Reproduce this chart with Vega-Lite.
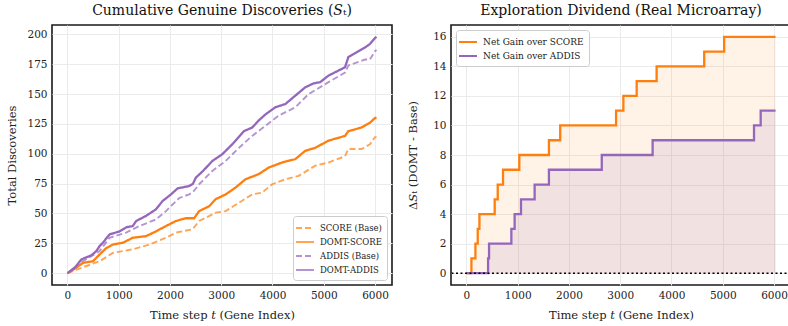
{
  "$schema": "https://vega.github.io/schema/vega-lite/v6.json",
  "background": "white",
  "padding": {"left": 6, "top": 3, "right": 0, "bottom": 0},
  "config": {
    "font": "DejaVu Serif",
    "view": {"stroke": "#1a1a1a", "strokeWidth": 1.6},
    "axis": {"domain": false, "ticks": false, "grid": true, "gridColor": "#ebebeb", "gridWidth": 1, "labelFont": "DejaVu Serif", "labelFontSize": 10.5, "labelColor": "#222222", "titleFont": "DejaVu Serif", "titleFontSize": 11.5, "titleFontWeight": "normal", "titleColor": "#222222", "labelPadding": 5, "labelFlush": false, "labelOverlap": false},
    "axisX": {"titlePadding": 9},
    "title": {"font": "DejaVu Serif", "fontSize": 14, "fontWeight": "normal", "color": "#111111", "offset": 7, "anchor": "middle"},
    "legend": {"labelFont": "DejaVu Serif", "labelFontSize": 8.5, "labelColor": "#222222", "strokeColor": "#cccccc", "fillColor": "rgba(255,255,255,0.85)", "cornerRadius": 3, "padding": 5, "rowPadding": 2, "symbolType": "M-1.5,0H1.5", "symbolSize": 144, "symbolStrokeWidth": 2, "offset": 5, "labelOffset": 8},
    "concat": {"spacing": 13}
  },
  "resolve": {"scale": {"color": "independent", "strokeDash": "independent", "x": "independent", "y": "independent"}, "legend": {"color": "independent", "strokeDash": "independent"}},
  "hconcat": [
    {
      "width": 340,
      "height": 260,
      "title": "Cumulative Genuine Discoveries (𝑆ₜ)",
      "data": {"values": [
        {"s": "SCORE (Base)", "t": 0, "v": 0}, {"s": "SCORE (Base)", "t": 304, "v": 5}, {"s": "SCORE (Base)", "t": 628, "v": 10}, {"s": "SCORE (Base)", "t": 886, "v": 17}, {"s": "SCORE (Base)", "t": 1275, "v": 20}, {"s": "SCORE (Base)", "t": 1598, "v": 24}, {"s": "SCORE (Base)", "t": 1922, "v": 29.7}, {"s": "SCORE (Base)", "t": 2116, "v": 34}, {"s": "SCORE (Base)", "t": 2439, "v": 36.7}, {"s": "SCORE (Base)", "t": 2569, "v": 43.7}, {"s": "SCORE (Base)", "t": 2892, "v": 50.7}, {"s": "SCORE (Base)", "t": 3086, "v": 52}, {"s": "SCORE (Base)", "t": 3345, "v": 59}, {"s": "SCORE (Base)", "t": 3604, "v": 66}, {"s": "SCORE (Base)", "t": 3798, "v": 67.5}, {"s": "SCORE (Base)", "t": 3992, "v": 74.5}, {"s": "SCORE (Base)", "t": 4251, "v": 78.7}, {"s": "SCORE (Base)", "t": 4510, "v": 81.5}, {"s": "SCORE (Base)", "t": 4833, "v": 90}, {"s": "SCORE (Base)", "t": 5092, "v": 92.7}, {"s": "SCORE (Base)", "t": 5415, "v": 98}, {"s": "SCORE (Base)", "t": 5480, "v": 104}, {"s": "SCORE (Base)", "t": 5739, "v": 104}, {"s": "SCORE (Base)", "t": 5901, "v": 108}, {"s": "SCORE (Base)", "t": 6000, "v": 114}, {"s": "SCORE (Base)", "t": 6030, "v": 114},
        {"s": "DOMT-SCORE", "t": 0, "v": 0}, {"s": "DOMT-SCORE", "t": 150, "v": 4}, {"s": "DOMT-SCORE", "t": 304, "v": 8.7}, {"s": "DOMT-SCORE", "t": 498, "v": 10}, {"s": "DOMT-SCORE", "t": 628, "v": 15.7}, {"s": "DOMT-SCORE", "t": 757, "v": 21}, {"s": "DOMT-SCORE", "t": 886, "v": 24}, {"s": "DOMT-SCORE", "t": 1081, "v": 25.5}, {"s": "DOMT-SCORE", "t": 1275, "v": 29.7}, {"s": "DOMT-SCORE", "t": 1533, "v": 31}, {"s": "DOMT-SCORE", "t": 1727, "v": 35}, {"s": "DOMT-SCORE", "t": 1922, "v": 39.5}, {"s": "DOMT-SCORE", "t": 2116, "v": 43.7}, {"s": "DOMT-SCORE", "t": 2310, "v": 46}, {"s": "DOMT-SCORE", "t": 2471, "v": 46}, {"s": "DOMT-SCORE", "t": 2569, "v": 52}, {"s": "DOMT-SCORE", "t": 2763, "v": 56}, {"s": "DOMT-SCORE", "t": 2892, "v": 62}, {"s": "DOMT-SCORE", "t": 3086, "v": 66}, {"s": "DOMT-SCORE", "t": 3280, "v": 71.7}, {"s": "DOMT-SCORE", "t": 3474, "v": 78.7}, {"s": "DOMT-SCORE", "t": 3733, "v": 83}, {"s": "DOMT-SCORE", "t": 3927, "v": 88.5}, {"s": "DOMT-SCORE", "t": 4186, "v": 92.7}, {"s": "DOMT-SCORE", "t": 4445, "v": 95.5}, {"s": "DOMT-SCORE", "t": 4639, "v": 102.5}, {"s": "DOMT-SCORE", "t": 4833, "v": 105}, {"s": "DOMT-SCORE", "t": 5092, "v": 111}, {"s": "DOMT-SCORE", "t": 5415, "v": 115}, {"s": "DOMT-SCORE", "t": 5480, "v": 119}, {"s": "DOMT-SCORE", "t": 5739, "v": 122}, {"s": "DOMT-SCORE", "t": 5901, "v": 126}, {"s": "DOMT-SCORE", "t": 6000, "v": 130}, {"s": "DOMT-SCORE", "t": 6030, "v": 130},
        {"s": "ADDIS (Base)", "t": 0, "v": 0}, {"s": "ADDIS (Base)", "t": 150, "v": 4}, {"s": "ADDIS (Base)", "t": 304, "v": 10}, {"s": "ADDIS (Base)", "t": 628, "v": 18.5}, {"s": "ADDIS (Base)", "t": 822, "v": 29.7}, {"s": "ADDIS (Base)", "t": 1145, "v": 34}, {"s": "ADDIS (Base)", "t": 1404, "v": 39.5}, {"s": "ADDIS (Base)", "t": 1727, "v": 45}, {"s": "ADDIS (Base)", "t": 1922, "v": 52}, {"s": "ADDIS (Base)", "t": 2180, "v": 63}, {"s": "ADDIS (Base)", "t": 2375, "v": 66}, {"s": "ADDIS (Base)", "t": 2450, "v": 68}, {"s": "ADDIS (Base)", "t": 2569, "v": 74.5}, {"s": "ADDIS (Base)", "t": 2827, "v": 85.7}, {"s": "ADDIS (Base)", "t": 3086, "v": 94}, {"s": "ADDIS (Base)", "t": 3345, "v": 105}, {"s": "ADDIS (Base)", "t": 3604, "v": 115}, {"s": "ADDIS (Base)", "t": 3863, "v": 123.5}, {"s": "ADDIS (Base)", "t": 4122, "v": 132}, {"s": "ADDIS (Base)", "t": 4445, "v": 139}, {"s": "ADDIS (Base)", "t": 4704, "v": 150}, {"s": "ADDIS (Base)", "t": 5092, "v": 160}, {"s": "ADDIS (Base)", "t": 5415, "v": 168}, {"s": "ADDIS (Base)", "t": 5480, "v": 174}, {"s": "ADDIS (Base)", "t": 5804, "v": 179}, {"s": "ADDIS (Base)", "t": 5901, "v": 179}, {"s": "ADDIS (Base)", "t": 6000, "v": 186}, {"s": "ADDIS (Base)", "t": 6030, "v": 187},
        {"s": "DOMT-ADDIS", "t": 0, "v": 0}, {"s": "DOMT-ADDIS", "t": 150, "v": 5}, {"s": "DOMT-ADDIS", "t": 272, "v": 11.5}, {"s": "DOMT-ADDIS", "t": 466, "v": 15}, {"s": "DOMT-ADDIS", "t": 563, "v": 18.5}, {"s": "DOMT-ADDIS", "t": 628, "v": 22.7}, {"s": "DOMT-ADDIS", "t": 700, "v": 26}, {"s": "DOMT-ADDIS", "t": 822, "v": 32.5}, {"s": "DOMT-ADDIS", "t": 1016, "v": 35}, {"s": "DOMT-ADDIS", "t": 1150, "v": 38.5}, {"s": "DOMT-ADDIS", "t": 1275, "v": 39.5}, {"s": "DOMT-ADDIS", "t": 1339, "v": 43.7}, {"s": "DOMT-ADDIS", "t": 1533, "v": 48}, {"s": "DOMT-ADDIS", "t": 1727, "v": 53.5}, {"s": "DOMT-ADDIS", "t": 1857, "v": 60.5}, {"s": "DOMT-ADDIS", "t": 2019, "v": 66}, {"s": "DOMT-ADDIS", "t": 2148, "v": 71}, {"s": "DOMT-ADDIS", "t": 2375, "v": 73}, {"s": "DOMT-ADDIS", "t": 2450, "v": 75}, {"s": "DOMT-ADDIS", "t": 2504, "v": 80}, {"s": "DOMT-ADDIS", "t": 2646, "v": 85.7}, {"s": "DOMT-ADDIS", "t": 2827, "v": 94}, {"s": "DOMT-ADDIS", "t": 3022, "v": 99.7}, {"s": "DOMT-ADDIS", "t": 3216, "v": 108}, {"s": "DOMT-ADDIS", "t": 3442, "v": 119}, {"s": "DOMT-ADDIS", "t": 3604, "v": 122}, {"s": "DOMT-ADDIS", "t": 3733, "v": 128}, {"s": "DOMT-ADDIS", "t": 3863, "v": 133}, {"s": "DOMT-ADDIS", "t": 4057, "v": 139}, {"s": "DOMT-ADDIS", "t": 4251, "v": 141.7}, {"s": "DOMT-ADDIS", "t": 4445, "v": 148.7}, {"s": "DOMT-ADDIS", "t": 4639, "v": 155.7}, {"s": "DOMT-ADDIS", "t": 4801, "v": 159}, {"s": "DOMT-ADDIS", "t": 4930, "v": 160}, {"s": "DOMT-ADDIS", "t": 5092, "v": 165.5}, {"s": "DOMT-ADDIS", "t": 5415, "v": 172.5}, {"s": "DOMT-ADDIS", "t": 5480, "v": 181}, {"s": "DOMT-ADDIS", "t": 5642, "v": 185}, {"s": "DOMT-ADDIS", "t": 5804, "v": 189}, {"s": "DOMT-ADDIS", "t": 5901, "v": 192}, {"s": "DOMT-ADDIS", "t": 6000, "v": 197}, {"s": "DOMT-ADDIS", "t": 6030, "v": 198}
      ]},
      "encoding": {
        "x": {"field": "t", "type": "quantitative", "scale": {"domain": [-301.5, 6331.5], "nice": false, "zero": false}, "axis": {"values": [0, 1000, 2000, 3000, 4000, 5000, 6000], "format": "d", "title": "Time step 𝑡 (Gene Index)"}},
        "y": {"field": "v", "type": "quantitative", "scale": {"domain": [-9.9, 207.9], "nice": false, "zero": false}, "axis": {"values": [0, 25, 50, 75, 100, 125, 150, 175, 200], "title": "Total Discoveries", "titlePadding": 9}},
        "color": {"field": "s", "type": "nominal", "scale": {"domain": ["SCORE (Base)", "DOMT-SCORE", "ADDIS (Base)", "DOMT-ADDIS"], "range": ["#ff7f0e", "#ff7f0e", "#9467bd", "#9467bd"]}, "legend": {"title": null, "orient": "bottom-right"}},
        "strokeDash": {"field": "s", "type": "nominal", "scale": {"domain": ["SCORE (Base)", "DOMT-SCORE", "ADDIS (Base)", "DOMT-ADDIS"], "range": [[6, 3], [1, 0], [6, 3], [1, 0]]}, "legend": {"title": null, "orient": "bottom-right"}}
      },
      "layer": [
        {"transform": [{"filter": "datum.s === 'SCORE (Base)' || datum.s === 'ADDIS (Base)'"}], "mark": {"type": "line", "strokeWidth": 1.9, "opacity": 0.7}},
        {"transform": [{"filter": "datum.s === 'DOMT-SCORE' || datum.s === 'DOMT-ADDIS'"}], "mark": {"type": "line", "strokeWidth": 2.3}}
      ]
    },
    {
      "width": 340,
      "height": 260,
      "title": "Exploration Dividend (Real Microarray)",
      "data": {"values": [
        {"s": "Net Gain over SCORE", "t": 0, "g": 0}, {"s": "Net Gain over SCORE", "t": 97, "g": 1}, {"s": "Net Gain over SCORE", "t": 175, "g": 2}, {"s": "Net Gain over SCORE", "t": 220, "g": 3}, {"s": "Net Gain over SCORE", "t": 253, "g": 4}, {"s": "Net Gain over SCORE", "t": 551, "g": 5}, {"s": "Net Gain over SCORE", "t": 610, "g": 6}, {"s": "Net Gain over SCORE", "t": 713, "g": 7}, {"s": "Net Gain over SCORE", "t": 1031, "g": 8}, {"s": "Net Gain over SCORE", "t": 1609, "g": 9}, {"s": "Net Gain over SCORE", "t": 1829, "g": 10}, {"s": "Net Gain over SCORE", "t": 2919, "g": 11}, {"s": "Net Gain over SCORE", "t": 3061, "g": 12}, {"s": "Net Gain over SCORE", "t": 3321, "g": 13}, {"s": "Net Gain over SCORE", "t": 3710, "g": 14}, {"s": "Net Gain over SCORE", "t": 4638, "g": 15}, {"s": "Net Gain over SCORE", "t": 5027, "g": 16}, {"s": "Net Gain over SCORE", "t": 6030, "g": 16},
        {"s": "Net Gain over ADDIS", "t": 0, "g": 0}, {"s": "Net Gain over ADDIS", "t": 422, "g": 1}, {"s": "Net Gain over ADDIS", "t": 441, "g": 2}, {"s": "Net Gain over ADDIS", "t": 876, "g": 3}, {"s": "Net Gain over ADDIS", "t": 940, "g": 4}, {"s": "Net Gain over ADDIS", "t": 1064, "g": 5}, {"s": "Net Gain over ADDIS", "t": 1330, "g": 6}, {"s": "Net Gain over ADDIS", "t": 1609, "g": 7}, {"s": "Net Gain over ADDIS", "t": 2640, "g": 8}, {"s": "Net Gain over ADDIS", "t": 3632, "g": 9}, {"s": "Net Gain over ADDIS", "t": 5610, "g": 10}, {"s": "Net Gain over ADDIS", "t": 5740, "g": 11}, {"s": "Net Gain over ADDIS", "t": 6030, "g": 11}
      ]},
      "layer": [
        {
          "transform": [{"filter": "datum.s === 'Net Gain over SCORE'"}],
          "mark": {"type": "area", "interpolate": "step-after", "color": "#ff7f0e", "opacity": 0.1},
          "encoding": {
            "x": {"field": "t", "type": "quantitative", "scale": {"domain": [-301.5, 6331.5], "nice": false, "zero": false}, "axis": {"values": [0, 1000, 2000, 3000, 4000, 5000, 6000], "format": "d", "title": "Time step 𝑡 (Gene Index)"}},
            "y": {"field": "g", "type": "quantitative", "scale": {"domain": [-0.8, 16.8], "nice": false, "zero": false}, "axis": {"values": [0, 2, 4, 6, 8, 10, 12, 14, 16], "title": "Δ𝑆ₜ (DOMT - Base)", "titlePadding": 14}},
            "y2": {"datum": 0}
          }
        },
        {
          "transform": [{"filter": "datum.s === 'Net Gain over ADDIS'"}],
          "mark": {"type": "area", "interpolate": "step-after", "color": "#9467bd", "opacity": 0.12},
          "encoding": {
            "x": {"field": "t", "type": "quantitative", "axis": {"values": [0, 1000, 2000, 3000, 4000, 5000, 6000], "format": "d", "title": "Time step 𝑡 (Gene Index)"}},
            "y": {"field": "g", "type": "quantitative", "axis": {"values": [0, 2, 4, 6, 8, 10, 12, 14, 16], "title": "Δ𝑆ₜ (DOMT - Base)", "titlePadding": 14}},
            "y2": {"datum": 0}
          }
        },
        {
          "mark": {"type": "line", "interpolate": "step-after", "strokeWidth": 2.3},
          "encoding": {
            "x": {"field": "t", "type": "quantitative", "axis": {"values": [0, 1000, 2000, 3000, 4000, 5000, 6000], "format": "d", "title": "Time step 𝑡 (Gene Index)"}},
            "y": {"field": "g", "type": "quantitative", "axis": {"values": [0, 2, 4, 6, 8, 10, 12, 14, 16], "title": "Δ𝑆ₜ (DOMT - Base)", "titlePadding": 14}},
            "color": {"field": "s", "type": "nominal", "scale": {"domain": ["Net Gain over SCORE", "Net Gain over ADDIS"], "range": ["#ff7f0e", "#9467bd"]}, "legend": {"title": null, "orient": "top-left", "labelFontSize": 9}}
          }
        },
        {
          "data": {"values": [{"z": 0}]},
          "mark": {"type": "rule", "color": "#000000", "strokeDash": [2, 2.5], "strokeWidth": 1.6},
          "encoding": {"y": {"field": "z", "type": "quantitative", "axis": {"values": [0, 2, 4, 6, 8, 10, 12, 14, 16], "title": "Δ𝑆ₜ (DOMT - Base)", "titlePadding": 14}}}
        }
      ]
    }
  ]
}
